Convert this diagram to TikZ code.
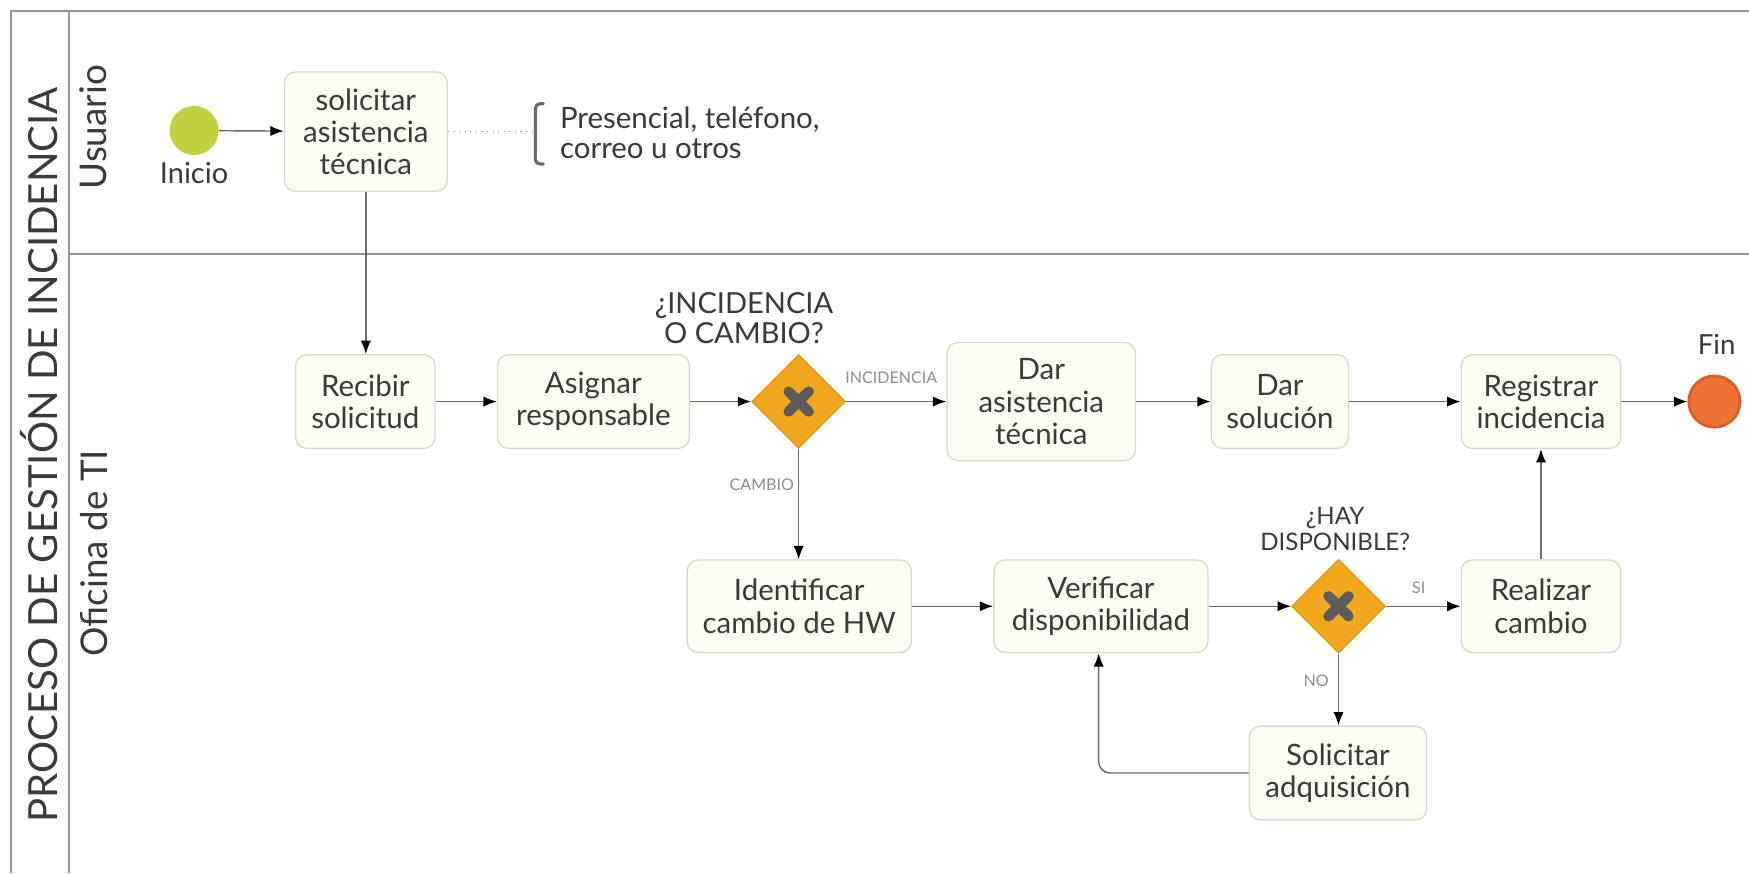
\documentclass[tikz,border=0pt]{standalone}
\usepackage{fontspec}
\setmainfont{Lato}
\usetikzlibrary{arrows.meta,shapes.geometric,calc}

\definecolor{txt}{HTML}{3A3A3A}
\definecolor{taskfill}{HTML}{FCFCF3}
\definecolor{taskedge}{HTML}{D9D9CF}
\definecolor{gatefill}{HTML}{F0A91C}
\definecolor{gateedge}{HTML}{E29A14}
\definecolor{gatex}{HTML}{5C5C5C}
\definecolor{startfill}{HTML}{C2D240}
\definecolor{endfill}{HTML}{EE7233}
\definecolor{endedge}{HTML}{D65F24}
\definecolor{flow}{HTML}{6A6A6A}
\definecolor{framecol}{HTML}{959595}
\definecolor{sublabel}{HTML}{8E8E8E}

\begin{document}
\begin{tikzpicture}[x=0.5pt,y=-0.5pt,
  task/.style={draw=taskedge, fill=taskfill, rounded corners=5pt, line width=0.6pt,
    align=center, text=txt, inner sep=2pt, font=\fontsize{13.2}{14.5}\selectfont},
  gateway/.style={diamond, draw=gateedge, fill=gatefill, line width=0.6pt,
    minimum width=42pt, minimum height=42pt, inner sep=0pt},
  gatemark/.style={draw=gatex, line width=4.6pt, line cap=round},
  startev/.style={circle, fill=startfill, minimum size=22pt, inner sep=0pt},
  endev/.style={circle, fill=endfill, draw=endedge, line width=1.2pt, minimum size=23pt, inner sep=0pt},
  flowarr/.style={draw=flow, line width=0.65pt, -{Latex[length=6pt,width=4.6pt,color=black]}},
  lbl/.style={text=txt, align=center, font=\fontsize{11}{13.5}\selectfont},
  cond/.style={text=sublabel, font=\fontsize{7.2}{8}\selectfont, inner sep=1pt},
  lane/.style={draw=framecol, line width=0.75pt}
]
\useasboundingbox (0,0) rectangle (1568,783);
\fill[white] (0,0) rectangle (1568,783);

% pool and lanes
\draw[lane] (1568,10) -- (10,10) -- (10,783);
\draw[lane] (62,10) -- (62,783);
\draw[lane] (62,228) -- (1568,228);
\node[rotate=90, text=txt, font=\fontsize{18}{20}\selectfont] (pool) at (35,408) {PROCESO DE GESTIÓN DE INCIDENCIA};
\node[rotate=90, text=txt, font=\fontsize{16.5}{18}\selectfont] (laneU) at (84,114) {Usuario};
\node[rotate=90, text=txt, font=\fontsize{16.5}{18}\selectfont] (laneTI) at (84,496) {Oficina de TI};

% user lane
\node[startev] (start) at (174,117) {};
\node[lbl, font=\fontsize{13}{14}\selectfont] (startlbl) at (174,155) {Inicio};
\node[task, minimum width=73pt, minimum height=53.5pt] (solic) at (328,118) {solicitar\\asistencia\\técnica};
\coordinate (brk) at (479,118);
\draw[draw=framecol, line width=0.5pt, dotted] (solic.east) -- (brk);
\draw[draw=gatex!90, line width=1.4pt, line cap=round, rounded corners=2pt]
  (487,93) -- (480,93) -- (480,147) -- (487,147);
\node[lbl, align=left, anchor=west, font=\fontsize{13.2}{13.8}\selectfont] (nota) at (495,119) {Presencial, teléfono,\\correo u otros};

% IT lane
\node[task, minimum width=62.5pt, minimum height=42pt] (recibir) at (327.5,360) {Recibir\\solicitud};
\node[task, minimum width=86pt, minimum height=42pt] (asignar) at (532,360) {Asignar\\responsable};
\node[gateway] (g1) at (716,360) {};
\draw[gatemark] ($(g1)+(-9,-9)$) -- ($(g1)+(9,9)$);
\draw[gatemark] ($(g1)+(-9,9)$) -- ($(g1)+(9,-9)$);
\node[lbl, font=\fontsize{13}{13.5}\selectfont] (g1lbl) at (667,285) {¿INCIDENCIA\\O CAMBIO?};
\node[task, minimum width=84.5pt, minimum height=53pt] (dar) at (933.5,360) {Dar\\asistencia\\técnica};
\node[task, minimum width=61.5pt, minimum height=42pt] (sol) at (1147.5,360) {Dar\\solución};
\node[task, minimum width=71.5pt, minimum height=42pt] (reg) at (1381.5,360) {Registrar\\incidencia};
\node[endev] (fin) at (1537,360) {};
\node[lbl, font=\fontsize{12.4}{13}\selectfont] (finlbl) at (1539,309) {Fin};

\node[task, minimum width=100.5pt, minimum height=41.5pt] (ident) at (716.5,543.5) {Identificar\\cambio de HW};
\node[task, minimum width=96pt, minimum height=41.5pt] (verif) at (987,543.5) {Verificar\\disponibilidad};
\node[gateway] (g2) at (1200,543.5) {};
\draw[gatemark] ($(g2)+(-9,-9)$) -- ($(g2)+(9,9)$);
\draw[gatemark] ($(g2)+(-9,9)$) -- ($(g2)+(9,-9)$);
\node[lbl, font=\fontsize{10.8}{11.5}\selectfont] (g2lbl) at (1197,474) {¿HAY\\DISPONIBLE?};
\node[task, minimum width=71.5pt, minimum height=41.5pt] (real) at (1381.5,543.5) {Realizar\\cambio};
\node[task, minimum width=79.5pt, minimum height=42pt] (adq) at (1199.5,693) {Solicitar\\adquisición};

% condition labels on the gateway outputs
\node[cond] (cinc) at (799,339) {INCIDENCIA};
\node[cond] (ccam) at (683,435) {CAMBIO};
\node[cond] (csi) at (1272,527) {SI};
\node[cond] (cno) at (1180,610) {NO};

% sequence flows
\draw[flowarr] (start) -- (solic);
\draw[flowarr] (solic.south) -- (solic.south |- recibir.north);
\draw[flowarr] (recibir) -- (asignar);
\draw[flowarr] (asignar) -- (g1.west);
\draw[flowarr] (g1.east) -- (dar);
\draw[flowarr] (dar) -- (sol);
\draw[flowarr] (sol) -- (reg);
\draw[flowarr] (reg) -- (fin);
\draw[flowarr] (g1.south) -- (g1.south |- ident.north);
\draw[flowarr] (ident) -- (verif);
\draw[flowarr] (verif) -- (g2.west);
\draw[flowarr] (g2.east) -- (real);
\draw[flowarr] (g2.south) -- (g2.south |- adq.north);
\draw[flowarr] (real) -- (reg);
\draw[flowarr, rounded corners=5pt] (adq.west) -| ($(verif.south)+(-2,0)$);
\end{tikzpicture}
\end{document}
